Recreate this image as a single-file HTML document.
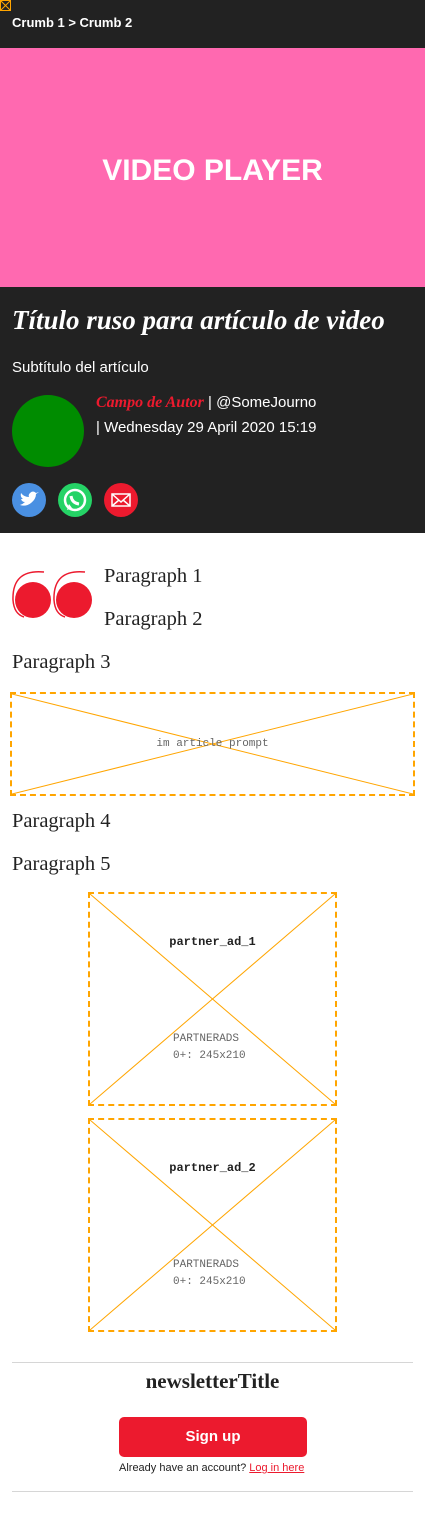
<!DOCTYPE html>
<html><head><meta charset="utf-8"><style>
*{margin:0;padding:0;box-sizing:border-box}
body{width:425px;height:1532px;position:relative;background:#fff;font-family:"Liberation Sans",sans-serif;overflow:hidden}
.a{position:absolute}
.serif{font-family:"Liberation Serif",serif}
.p{font-family:"Liberation Serif",serif;font-size:20.5px;color:#222;left:12px}
.mono{font-family:"Liberation Mono",monospace}
.ad{border:2px dashed #ffa500}
</style></head><body>
<div class="a" style="left:0;top:0;width:425px;height:48px;background:#222"></div>
<svg class="a" style="left:0;top:0" width="11" height="11"><rect x="0.5" y="0.5" width="10" height="10" fill="none" stroke="#ffa500"/><line x1="0" y1="0" x2="11" y2="11" stroke="#ffa500"/><line x1="11" y1="0" x2="0" y2="11" stroke="#ffa500"/></svg>
<div class="a" style="left:12px;top:15px;color:#fff;font-weight:bold;font-size:13px">Crumb 1 &gt; Crumb 2</div>
<div class="a" style="left:0;top:48px;width:425px;height:239px;background:#ff69b0;color:#fff;font-weight:bold;font-size:30px;display:flex;align-items:center;justify-content:center;padding-top:6px">VIDEO PLAYER</div>
<div class="a" style="left:0;top:287px;width:425px;height:246px;background:#222"></div>
<div class="a serif" style="left:12px;top:305px;color:#fff;font-size:27px;font-weight:bold;font-style:italic;white-space:nowrap">Título ruso para artículo de video</div>
<div class="a" style="left:12px;top:359px;color:#fff;font-size:15px">Subtítulo del artículo</div>
<div class="a" style="left:12px;top:395px;width:72px;height:72px;border-radius:50%;background:#008c00"></div>
<div class="a" style="left:96px;top:390px;color:#fff;font-size:15px;line-height:25px"><span class="serif" style="color:#ec1a2e;font-weight:bold;font-style:italic;font-size:16px">Campo de Autor</span> | @SomeJourno<br>| Wednesday 29 April 2020 15:19</div>
<div class="a" style="left:12px;top:483px;width:34px;height:34px;border-radius:50%;background:#4a90e2"><svg width="34" height="34"><path d="M8 22 Q14 24 19 20 Q24 16 24 11 L27 9 L24 10 Q21 7 18 10 Q16 12 17 14 Q12 14 9 10 Q8 14 11 16 L9 16 Q10 19 13 19 Q11 21 8 22Z" fill="#fff"/></svg></div>
<div class="a" style="left:58px;top:483px;width:34px;height:34px;border-radius:50%;background:#25d366"><svg width="34" height="34"><circle cx="17" cy="17" r="10" fill="none" stroke="#fff" stroke-width="2.5"/><path d="M9 27 L11 21 L14 25Z" fill="#fff"/><path d="M13 13 Q14 20 21 21" fill="none" stroke="#fff" stroke-width="3"/></svg></div>
<div class="a" style="left:104px;top:483px;width:34px;height:34px;border-radius:50%;background:#ec1a2e"><svg width="34" height="34"><rect x="8" y="11" width="18" height="12" fill="none" stroke="#fff" stroke-width="1.5"/><path d="M8 11 L17 19 L26 11 M8 23 L15 17 M26 23 L19 17" fill="none" stroke="#fff" stroke-width="1.5"/></svg></div>
<svg class="a" style="left:12px;top:570px" width="82" height="50"><circle cx="21" cy="30" r="18" fill="#ec1a2e"/><circle cx="62" cy="30" r="18" fill="#ec1a2e"/><path d="M32 2 Q0 -1 1 30 Q2 44 12 47" fill="none" stroke="#ec1a2e" stroke-width="1.5"/><path d="M73 2 Q41 -1 42 30 Q43 44 53 47" fill="none" stroke="#ec1a2e" stroke-width="1.5"/></svg>
<div class="a p" style="left:104px;top:565px">Paragraph 1</div>
<div class="a p" style="left:104px;top:608px">Paragraph 2</div>
<div class="a p" style="top:651px">Paragraph 3</div>
<div class="a ad" style="left:10px;top:692px;width:405px;height:104px"><svg class="a" style="left:0;top:0" width="401" height="100"><line x1="0" y1="0" x2="401" y2="100" stroke="#ffa500"/><line x1="401" y1="0" x2="0" y2="100" stroke="#ffa500"/></svg><div class="a mono" style="left:0;width:401px;top:44px;text-align:center;font-size:11px;color:#666">im article prompt</div></div>
<div class="a p" style="top:810px">Paragraph 4</div>
<div class="a p" style="top:853px">Paragraph 5</div>
<div class="a ad" style="left:88px;top:892px;width:249px;height:214px"><svg class="a" style="left:0;top:0" width="245" height="210"><line x1="0" y1="0" x2="245" y2="210" stroke="#ffa500"/><line x1="245" y1="0" x2="0" y2="210" stroke="#ffa500"/></svg><div class="a mono" style="left:0;width:245px;top:41px;text-align:center;font-size:12px;font-weight:bold;color:#222">partner_ad_1</div><div class="a mono" style="left:83px;top:137px;font-size:11px;color:#666;line-height:17px">PARTNERADS<br>0+: 245x210</div></div>
<div class="a ad" style="left:88px;top:1118px;width:249px;height:214px"><svg class="a" style="left:0;top:0" width="245" height="210"><line x1="0" y1="0" x2="245" y2="210" stroke="#ffa500"/><line x1="245" y1="0" x2="0" y2="210" stroke="#ffa500"/></svg><div class="a mono" style="left:0;width:245px;top:41px;text-align:center;font-size:12px;font-weight:bold;color:#222">partner_ad_2</div><div class="a mono" style="left:83px;top:137px;font-size:11px;color:#666;line-height:17px">PARTNERADS<br>0+: 245x210</div></div>
<div class="a" style="left:12px;top:1362px;width:401px;height:1px;background:#d6d6d6"></div>
<div class="a serif" style="left:0;width:425px;top:1369px;text-align:center;font-size:21px;font-weight:bold;color:#222">newsletterTitle</div>
<div class="a" style="left:119px;top:1417px;width:188px;height:40px;background:#ec1a2e;border-radius:5px;color:#fff;font-weight:bold;font-size:15px;text-align:center;line-height:40px">Sign up</div>
<div class="a" style="left:119px;top:1462px;font-size:11px;color:#222">Already have an account? <span style="color:#ec1a2e;text-decoration:underline">Log in here</span></div>
<div class="a" style="left:12px;top:1491px;width:401px;height:1px;background:#d6d6d6"></div>
</body></html>
